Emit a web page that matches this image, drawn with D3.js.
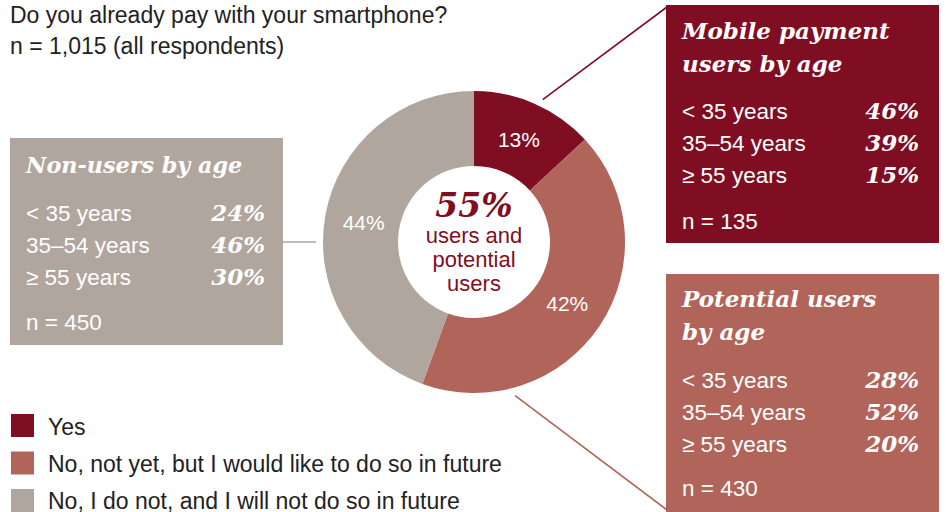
<!DOCTYPE html>
<html>
<head>
<meta charset="utf-8">
<script src="https://cdn.jsdelivr.net/npm/d3@7"></script>
<style>
  html, body { margin: 0; padding: 0; background: #fff; }
  svg { display: block; }
  .sans { font-family: "Liberation Sans", Arial, Helvetica, sans-serif; }
  .serif { font-family: "DejaVu Serif", Georgia, serif; font-weight: bold; font-style: italic; }
</style>
</head>
<body>
<svg id="chart" width="946" height="512"></svg>
<script>
// Survey answers (share of all respondents, %)
const categories = ["Yes", "No, not yet, but I would like to do so in future", "No, I do not, and I will not do so in future"];
const shares = [13, 42, 44];
const colors = ["#800e22", "#b1645a", "#b0a69d"];

// Age breakdown per group
const ageGroups = ["< 35 years", "35\u201354 years", "\u2265 55 years"];
const usersByAge = [46, 39, 15];
const potentialByAge = [28, 52, 20];
const nonUsersByAge = [24, 46, 30];
const groupN = [135, 430, 450];

const centerShare = 55;

const svg = d3.select("#chart");

// Title
svg.append("text").attr("class", "sans").attr("x", 10).attr("y", 23)
  .attr("font-size", 23).attr("fill", "#222")
  .text("Do you already pay with your smartphone?");
svg.append("text").attr("class", "sans").attr("x", 10).attr("y", 54)
  .attr("font-size", 23).attr("fill", "#222")
  .text("n = 1,015 (all respondents)");

// Donut
const cx = 474, cy = 242, rOuter = 151, rInner = 76;
const pie = d3.pie().sort(null).value(d => d);
const arcs = pie(shares);
const arc = d3.arc().innerRadius(rInner).outerRadius(rOuter);
const g = svg.append("g").attr("transform", `translate(${cx},${cy})`);

g.selectAll("path.slice").data(arcs).join("path")
  .attr("class", "slice")
  .attr("d", arc)
  .attr("fill", (d, i) => colors[i]);

const labelArc = d3.arc().innerRadius(112).outerRadius(112);
g.selectAll("text.pct").data(arcs).join("text")
  .attr("class", "sans pct")
  .attr("transform", d => {
    const [x, y] = labelArc.centroid(d);
    return `translate(${x},${y})`;
  })
  .attr("text-anchor", "middle")
  .attr("dy", "0.35em")
  .attr("font-size", 21)
  .attr("fill", "#fff")
  .text(d => d.data + "%");

// Center text
g.append("text").attr("class", "serif").attr("text-anchor", "middle")
  .attr("y", -25).attr("font-size", 33).attr("fill", "#800e22")
  .text(centerShare + "%");
["users and", "potential", "users"].forEach((t, i) => {
  g.append("text").attr("class", "sans").attr("text-anchor", "middle")
    .attr("y", 1 + i * 24).attr("font-size", 22).attr("fill", "#800e22")
    .text(t);
});

// Connector lines
function outerPoint(angle, r) {
  return [cx + r * Math.sin(angle), cy - r * Math.cos(angle)];
}
const p1 = outerPoint(0.45, 158);
svg.append("line").attr("x1", p1[0]).attr("y1", p1[1]).attr("x2", 667).attr("y2", 7)
  .attr("stroke", colors[0]).attr("stroke-width", 1.6);

const p2 = outerPoint(2.88, 159);
svg.append("line").attr("x1", p2[0]).attr("y1", p2[1]).attr("x2", 667).attr("y2", 510)
  .attr("stroke", colors[1]).attr("stroke-width", 1.6);

svg.append("line").attr("x1", 283).attr("y1", cy).attr("x2", 316).attr("y2", cy)
  .attr("stroke", colors[2]).attr("stroke-width", 1.6);

// Detail boxes
function detailBox(opts) {
  const b = svg.append("g");
  b.append("rect").attr("x", opts.x).attr("y", opts.y)
    .attr("width", opts.w).attr("height", opts.h).attr("fill", opts.fill);
  opts.title.forEach((t, i) => {
    b.append("text").attr("class", "serif").attr("x", opts.x + 16)
      .attr("y", opts.titleY + i * 33).attr("font-size", opts.titleSize || 23).attr("fill", "#fff")
      .text(t);
  });
  ageGroups.forEach((a, i) => {
    b.append("text").attr("class", "sans").attr("x", opts.x + 16)
      .attr("y", opts.rowY + i * 32).attr("font-size", 22.5).attr("fill", "#fff")
      .text(a);
    b.append("text").attr("class", "serif").attr("x", opts.valueX)
      .attr("y", opts.rowY + i * 32).attr("text-anchor", "end")
      .attr("font-size", 23).attr("fill", "#fff")
      .text(opts.values[i] + "%");
  });
  b.append("text").attr("class", "sans").attr("x", opts.x + 16)
    .attr("y", opts.nY).attr("font-size", 22.5).attr("fill", "#fff")
    .text("n = " + opts.n);
}

detailBox({ x: 666, y: 5, w: 273, h: 238, fill: colors[0],
  title: ["Mobile payment", "users by age"], titleY: 39,
  rowY: 119, nY: 229, valueX: 919, values: usersByAge, n: groupN[0] });

detailBox({ x: 666, y: 274, w: 273, h: 238, fill: colors[1],
  title: ["Potential users", "by age"], titleY: 307,
  rowY: 388, nY: 496, valueX: 919, values: potentialByAge, n: groupN[1] });

detailBox({ x: 10, y: 138, w: 273, h: 207, fill: colors[2],
  title: ["Non-users by age"], titleY: 173, titleSize: 22.3,
  rowY: 221, nY: 330, valueX: 265, values: nonUsersByAge, n: groupN[2] });

// Legend
const legend = svg.append("g");
categories.forEach((c, i) => {
  legend.append("rect").attr("x", 11).attr("y", 414 + i * 37.5)
    .attr("width", 23).attr("height", 23).attr("fill", colors[i]);
  legend.append("text").attr("class", "sans").attr("x", 48).attr("y", 435 + i * 37)
    .attr("font-size", 23).attr("fill", "#222").text(c);
});
</script>
</body>
</html>
